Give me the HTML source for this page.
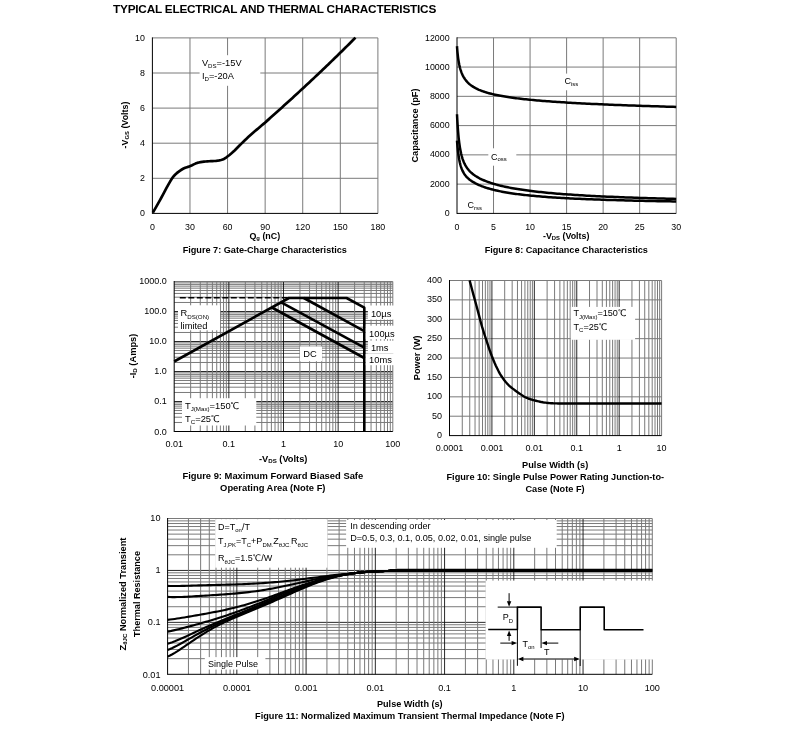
<!DOCTYPE html>
<html lang="en">
<head>
<meta charset="utf-8">
<title>Typical Electrical and Thermal Characteristics</title>
<style>
html,body{margin:0;padding:0;background:#fff;}
body{width:793px;height:756px;overflow:hidden;position:relative;}
svg{position:absolute;left:0;top:0;display:block;will-change:transform;}
svg text{font-family:"Liberation Sans", "WenQuanYi Zen Hei", sans-serif;fill:#000;}
</style>
</head>
<body>
<svg width="793" height="756" viewBox="0 0 793 756">
<!--title-->
<text x="113" y="12.7" font-size="11.8" font-weight="bold" letter-spacing="-0.22">TYPICAL ELECTRICAL AND THERMAL CHARACTERISTICS</text>
<!--fig7-->
<line x1="189.98" y1="37.9" x2="189.98" y2="213.4" stroke="#7a7a7a" stroke-width="1"/>
<line x1="227.57" y1="37.9" x2="227.57" y2="213.4" stroke="#7a7a7a" stroke-width="1"/>
<line x1="265.15" y1="37.9" x2="265.15" y2="213.4" stroke="#7a7a7a" stroke-width="1"/>
<line x1="302.73" y1="37.9" x2="302.73" y2="213.4" stroke="#7a7a7a" stroke-width="1"/>
<line x1="340.32" y1="37.9" x2="340.32" y2="213.4" stroke="#7a7a7a" stroke-width="1"/>
<line x1="152.4" y1="73" x2="377.9" y2="73" stroke="#7a7a7a" stroke-width="1"/>
<line x1="152.4" y1="108.1" x2="377.9" y2="108.1" stroke="#7a7a7a" stroke-width="1"/>
<line x1="152.4" y1="143.2" x2="377.9" y2="143.2" stroke="#7a7a7a" stroke-width="1"/>
<line x1="152.4" y1="178.3" x2="377.9" y2="178.3" stroke="#7a7a7a" stroke-width="1"/>
<line x1="152.4" y1="37.9" x2="377.9" y2="37.9" stroke="#7a7a7a" stroke-width="1"/>
<line x1="377.9" y1="37.9" x2="377.9" y2="213.4" stroke="#7a7a7a" stroke-width="1"/>
<line x1="152.4" y1="37.4" x2="152.4" y2="213.9" stroke="#000" stroke-width="1"/>
<line x1="152.4" y1="213.4" x2="377.9" y2="213.4" stroke="#000" stroke-width="1"/>
<path d="M152.9 212.6 L154.6 209.63 L156.31 206.63 L158.01 203.61 L159.71 200.57 L161.41 197.5 L163.12 194.38 L164.82 191.17 L166.52 187.98 L168.22 184.9 L169.93 181.94 L171.63 179.05 L173.33 176.64 L175.03 174.76 L176.74 173.18 L178.44 171.83 L180.14 170.6 L181.84 169.5 L183.55 168.55 L185.25 167.77 L186.95 167.19 L188.65 166.66 L190.36 166.06 L192.06 165.28 L193.76 164.42 L195.46 163.59 L197.17 162.93 L198.87 162.51 L200.57 162.19 L202.27 161.91 L203.98 161.69 L205.68 161.5 L207.38 161.36 L209.08 161.25 L210.79 161.18 L212.49 161.1 L214.19 161.01 L215.89 160.87 L217.6 160.66 L219.3 160.37 L221 159.98 L222.7 159.5 L224.41 158.7 L226.11 157.52 L227.81 156.24 L229.51 154.96 L231.22 153.56 L232.92 152.07 L234.62 150.47 L236.32 148.75 L238.03 146.99 L239.73 145.27 L241.43 143.61 L243.13 141.95 L244.84 140.32 L246.54 138.7 L248.24 137.11 L249.94 135.55 L251.65 134.03 L253.35 132.54 L255.05 131.09 L256.75 129.65 L258.46 128.22 L260.16 126.78 L261.86 125.34 L263.56 123.88 L265.27 122.4 L266.97 120.88 L268.67 119.37 L270.37 117.85 L272.08 116.33 L273.78 114.81 L275.48 113.28 L277.18 111.76 L278.89 110.23 L280.59 108.69 L282.29 107.16 L283.99 105.62 L285.7 104.08 L287.4 102.53 L289.1 100.99 L290.8 99.44 L292.51 97.88 L294.21 96.32 L295.91 94.76 L297.61 93.2 L299.32 91.63 L301.02 90.06 L302.72 88.49 L304.42 86.91 L306.13 85.33 L307.83 83.75 L309.53 82.16 L311.23 80.57 L312.94 78.97 L314.64 77.37 L316.34 75.76 L318.04 74.16 L319.75 72.54 L321.45 70.93 L323.15 69.3 L324.85 67.68 L326.56 66.05 L328.26 64.41 L329.96 62.78 L331.66 61.13 L333.37 59.48 L335.07 57.83 L336.77 56.17 L338.47 54.51 L340.18 52.84 L341.88 51.17 L343.58 49.49 L345.28 47.81 L346.99 46.12 L348.69 44.43 L350.39 42.73 L352.09 41.02 L353.8 39.31 L355.5 37.6" fill="none" stroke="#000" stroke-width="2.7" stroke-linejoin="round"/>
<rect x="199.6" y="55.2" width="60.7" height="30.6" fill="#fff"/>
<text x="201.9" y="65.9" font-size="9.28">V<tspan font-size="6.12" dy="2.51">DS</tspan><tspan dy="-2.51">=-15V</tspan></text>
<text x="201.9" y="78.9" font-size="9.28">I<tspan font-size="6.12" dy="2.51">D</tspan><tspan dy="-2.51">=-20A</tspan></text>
<text x="144.9" y="216" font-size="8.85" text-anchor="end">0</text>
<text x="144.9" y="181.02" font-size="8.85" text-anchor="end">2</text>
<text x="144.9" y="146.04" font-size="8.85" text-anchor="end">4</text>
<text x="144.9" y="111.06" font-size="8.85" text-anchor="end">6</text>
<text x="144.9" y="76.08" font-size="8.85" text-anchor="end">8</text>
<text x="144.9" y="41.1" font-size="8.85" text-anchor="end">10</text>
<text x="152.4" y="229.7" font-size="8.85" text-anchor="middle">0</text>
<text x="189.98" y="229.7" font-size="8.85" text-anchor="middle">30</text>
<text x="227.57" y="229.7" font-size="8.85" text-anchor="middle">60</text>
<text x="265.15" y="229.7" font-size="8.85" text-anchor="middle">90</text>
<text x="302.73" y="229.7" font-size="8.85" text-anchor="middle">120</text>
<text x="340.32" y="229.7" font-size="8.85" text-anchor="middle">150</text>
<text x="377.9" y="229.7" font-size="8.85" text-anchor="middle">180</text>
<text x="128.3" y="125" font-size="8.9" font-weight="bold" text-anchor="middle" transform="rotate(-90 128.3 125)">-V<tspan font-size="5.87" dy="1.07">GS</tspan><tspan dy="-1.07"> (Volts)</tspan></text>
<text x="264.8" y="239.4" font-size="8.9" font-weight="bold" text-anchor="middle">Q<tspan font-size="5.87" dy="1.07">g</tspan><tspan dy="-1.07"> (nC)</tspan></text>
<text x="264.8" y="252.7" font-size="9.13" font-weight="bold" text-anchor="middle">Figure 7: Gate-Charge Characteristics</text>
<!--fig8-->
<line x1="493.53" y1="37.8" x2="493.53" y2="213.4" stroke="#7a7a7a" stroke-width="1"/>
<line x1="530.07" y1="37.8" x2="530.07" y2="213.4" stroke="#7a7a7a" stroke-width="1"/>
<line x1="566.6" y1="37.8" x2="566.6" y2="213.4" stroke="#7a7a7a" stroke-width="1"/>
<line x1="603.13" y1="37.8" x2="603.13" y2="213.4" stroke="#7a7a7a" stroke-width="1"/>
<line x1="639.67" y1="37.8" x2="639.67" y2="213.4" stroke="#7a7a7a" stroke-width="1"/>
<line x1="457" y1="67.07" x2="676.2" y2="67.07" stroke="#7a7a7a" stroke-width="1"/>
<line x1="457" y1="96.33" x2="676.2" y2="96.33" stroke="#7a7a7a" stroke-width="1"/>
<line x1="457" y1="125.6" x2="676.2" y2="125.6" stroke="#7a7a7a" stroke-width="1"/>
<line x1="457" y1="154.87" x2="676.2" y2="154.87" stroke="#7a7a7a" stroke-width="1"/>
<line x1="457" y1="184.13" x2="676.2" y2="184.13" stroke="#7a7a7a" stroke-width="1"/>
<line x1="457" y1="37.8" x2="676.2" y2="37.8" stroke="#7a7a7a" stroke-width="1"/>
<line x1="676.2" y1="37.8" x2="676.2" y2="213.4" stroke="#7a7a7a" stroke-width="1"/>
<line x1="457" y1="37.3" x2="457" y2="213.9" stroke="#000" stroke-width="1"/>
<line x1="457" y1="213.4" x2="676.2" y2="213.4" stroke="#000" stroke-width="1"/>
<path d="M457 46.29 L457.01 46.46 L457.05 46.95 L457.1 47.75 L457.18 48.81 L457.28 50.08 L457.41 51.52 L457.56 53.09 L457.73 54.72 L457.92 56.4 L458.13 58.09 L458.37 59.77 L458.63 61.41 L458.92 63.01 L459.22 64.56 L459.55 66.05 L459.9 67.49 L460.28 68.86 L460.68 70.17 L461.1 71.42 L461.54 72.61 L462 73.75 L462.49 74.83 L463 75.87 L463.53 76.85 L464.09 77.79 L464.67 78.69 L465.27 79.55 L465.89 80.37 L466.54 81.15 L467.21 81.9 L467.9 82.62 L468.62 83.31 L469.35 83.97 L470.12 84.61 L470.9 85.22 L471.7 85.81 L472.53 86.37 L473.38 86.92 L474.26 87.44 L475.15 87.94 L476.07 88.43 L477.01 88.9 L477.98 89.36 L478.96 89.8 L479.97 90.22 L481.01 90.64 L482.06 91.04 L483.14 91.42 L484.24 91.8 L485.36 92.16 L486.51 92.52 L487.68 92.86 L488.87 93.19 L490.08 93.52 L491.32 93.83 L492.58 94.14 L493.86 94.44 L495.17 94.73 L496.49 95.02 L497.84 95.29 L499.22 95.56 L500.61 95.83 L502.03 96.09 L503.47 96.34 L504.93 96.58 L506.42 96.82 L507.93 97.06 L509.46 97.29 L511.01 97.51 L512.59 97.73 L514.19 97.95 L515.81 98.16 L517.46 98.37 L519.13 98.57 L520.82 98.77 L522.53 98.96 L524.27 99.15 L526.02 99.34 L527.81 99.53 L529.61 99.71 L531.44 99.88 L533.28 100.06 L535.16 100.23 L537.05 100.4 L538.97 100.56 L540.91 100.73 L542.87 100.89 L544.86 101.04 L546.87 101.2 L548.9 101.35 L550.95 101.5 L553.03 101.65 L555.12 101.8 L557.25 101.94 L559.39 102.08 L561.56 102.22 L563.75 102.36 L565.96 102.5 L568.19 102.63 L570.45 102.76 L572.73 102.89 L575.04 103.02 L577.36 103.15 L579.71 103.27 L582.08 103.4 L584.47 103.52 L586.89 103.64 L589.33 103.76 L591.79 103.88 L594.28 104 L596.78 104.11 L599.31 104.23 L601.87 104.34 L604.44 104.45 L607.04 104.56 L609.66 104.67 L612.3 104.78 L614.97 104.88 L617.66 104.99 L620.37 105.1 L623.1 105.2 L625.86 105.3 L628.64 105.4 L631.44 105.5 L634.27 105.6 L637.12 105.7 L639.99 105.8 L642.88 105.9 L645.79 106 L648.73 106.09 L651.69 106.19 L654.68 106.28 L657.68 106.37 L660.71 106.47 L663.77 106.56 L666.84 106.65 L669.94 106.74 L673.06 106.83 L676.2 106.92" fill="none" stroke="#000" stroke-width="2.5" stroke-linejoin="round"/>
<path d="M457 114.21 L457.01 114.45 L457.05 115.15 L457.1 116.28 L457.18 117.82 L457.28 119.69 L457.41 121.86 L457.56 124.25 L457.73 126.8 L457.92 129.45 L458.13 132.15 L458.37 134.86 L458.63 137.53 L458.92 140.13 L459.22 142.64 L459.55 145.04 L459.9 147.33 L460.28 149.5 L460.68 151.54 L461.1 153.46 L461.54 155.26 L462 156.95 L462.49 158.53 L463 160.02 L463.53 161.4 L464.09 162.71 L464.67 163.93 L465.27 165.08 L465.89 166.17 L466.54 167.19 L467.21 168.16 L467.9 169.08 L468.62 169.96 L469.35 170.79 L470.12 171.58 L470.9 172.34 L471.7 173.07 L472.53 173.76 L473.38 174.43 L474.26 175.08 L475.15 175.7 L476.07 176.3 L477.01 176.88 L477.98 177.45 L478.96 177.99 L479.97 178.52 L481.01 179.03 L482.06 179.53 L483.14 180.02 L484.24 180.49 L485.36 180.95 L486.51 181.4 L487.68 181.84 L488.87 182.27 L490.08 182.68 L491.32 183.09 L492.58 183.49 L493.86 183.88 L495.17 184.26 L496.49 184.63 L497.84 184.99 L499.22 185.34 L500.61 185.69 L502.03 186.03 L503.47 186.36 L504.93 186.68 L506.42 187 L507.93 187.31 L509.46 187.62 L511.01 187.91 L512.59 188.2 L514.19 188.49 L515.81 188.77 L517.46 189.04 L519.13 189.31 L520.82 189.57 L522.53 189.82 L524.27 190.08 L526.02 190.32 L527.81 190.56 L529.61 190.8 L531.44 191.03 L533.28 191.25 L535.16 191.47 L537.05 191.69 L538.97 191.9 L540.91 192.11 L542.87 192.31 L544.86 192.51 L546.87 192.71 L548.9 192.9 L550.95 193.09 L553.03 193.27 L555.12 193.45 L557.25 193.63 L559.39 193.8 L561.56 193.97 L563.75 194.14 L565.96 194.3 L568.19 194.46 L570.45 194.62 L572.73 194.77 L575.04 194.92 L577.36 195.07 L579.71 195.22 L582.08 195.36 L584.47 195.5 L586.89 195.63 L589.33 195.77 L591.79 195.9 L594.28 196.03 L596.78 196.15 L599.31 196.28 L601.87 196.4 L604.44 196.52 L607.04 196.64 L609.66 196.75 L612.3 196.87 L614.97 196.98 L617.66 197.09 L620.37 197.19 L623.1 197.3 L625.86 197.4 L628.64 197.5 L631.44 197.6 L634.27 197.7 L637.12 197.8 L639.99 197.89 L642.88 197.98 L645.79 198.07 L648.73 198.16 L651.69 198.25 L654.68 198.34 L657.68 198.42 L660.71 198.5 L663.77 198.59 L666.84 198.67 L669.94 198.74 L673.06 198.82 L676.2 198.9" fill="none" stroke="#000" stroke-width="2.5" stroke-linejoin="round"/>
<path d="M457 140.6 L457.01 140.75 L457.05 141.19 L457.1 141.91 L457.18 142.89 L457.28 144.09 L457.41 145.5 L457.56 147.06 L457.73 148.74 L457.92 150.52 L458.13 152.34 L458.37 154.17 L458.63 156 L458.92 157.79 L459.22 159.54 L459.55 161.21 L459.9 162.81 L460.28 164.33 L460.68 165.76 L461.1 167.11 L461.54 168.38 L462 169.56 L462.49 170.67 L463 171.72 L463.53 172.69 L464.09 173.61 L464.67 174.48 L465.27 175.29 L465.89 176.07 L466.54 176.8 L467.21 177.5 L467.9 178.17 L468.62 178.81 L469.35 179.42 L470.12 180.02 L470.9 180.59 L471.7 181.14 L472.53 181.68 L473.38 182.2 L474.26 182.7 L475.15 183.19 L476.07 183.67 L477.01 184.13 L477.98 184.59 L478.96 185.03 L479.97 185.46 L481.01 185.88 L482.06 186.29 L483.14 186.69 L484.24 187.08 L485.36 187.46 L486.51 187.83 L487.68 188.2 L488.87 188.55 L490.08 188.9 L491.32 189.24 L492.58 189.57 L493.86 189.89 L495.17 190.21 L496.49 190.51 L497.84 190.81 L499.22 191.11 L500.61 191.39 L502.03 191.67 L503.47 191.94 L504.93 192.21 L506.42 192.47 L507.93 192.72 L509.46 192.97 L511.01 193.21 L512.59 193.44 L514.19 193.67 L515.81 193.9 L517.46 194.12 L519.13 194.33 L520.82 194.54 L522.53 194.74 L524.27 194.94 L526.02 195.13 L527.81 195.32 L529.61 195.51 L531.44 195.69 L533.28 195.86 L535.16 196.03 L537.05 196.2 L538.97 196.36 L540.91 196.52 L542.87 196.68 L544.86 196.83 L546.87 196.98 L548.9 197.13 L550.95 197.27 L553.03 197.41 L555.12 197.54 L557.25 197.68 L559.39 197.81 L561.56 197.93 L563.75 198.06 L565.96 198.18 L568.19 198.3 L570.45 198.41 L572.73 198.53 L575.04 198.64 L577.36 198.75 L579.71 198.85 L582.08 198.96 L584.47 199.06 L586.89 199.16 L589.33 199.25 L591.79 199.35 L594.28 199.44 L596.78 199.53 L599.31 199.62 L601.87 199.71 L604.44 199.79 L607.04 199.88 L609.66 199.96 L612.3 200.04 L614.97 200.12 L617.66 200.2 L620.37 200.27 L623.1 200.35 L625.86 200.42 L628.64 200.49 L631.44 200.56 L634.27 200.63 L637.12 200.69 L639.99 200.76 L642.88 200.82 L645.79 200.89 L648.73 200.95 L651.69 201.01 L654.68 201.07 L657.68 201.13 L660.71 201.19 L663.77 201.24 L666.84 201.3 L669.94 201.35 L673.06 201.41 L676.2 201.46" fill="none" stroke="#000" stroke-width="2.5" stroke-linejoin="round"/>
<rect x="562.5" y="73.6" width="19.5" height="16.7" fill="#fff"/>
<text x="564.4" y="83.7" font-size="9">C<tspan font-size="5.94" dy="1.98">iss</tspan></text>
<rect x="488.3" y="148.3" width="28" height="17.4" fill="#fff"/>
<text x="491" y="159.6" font-size="9">C<tspan font-size="5.94" dy="1.17">oss</tspan></text>
<text x="467.6" y="207.8" font-size="9">C<tspan font-size="5.94" dy="2.16">rss</tspan></text>
<text x="449.6" y="215.7" font-size="8.85" text-anchor="end">0</text>
<text x="449.6" y="186.58" font-size="8.85" text-anchor="end">2000</text>
<text x="449.6" y="157.47" font-size="8.85" text-anchor="end">4000</text>
<text x="449.6" y="128.35" font-size="8.85" text-anchor="end">6000</text>
<text x="449.6" y="99.23" font-size="8.85" text-anchor="end">8000</text>
<text x="449.6" y="70.12" font-size="8.85" text-anchor="end">10000</text>
<text x="449.6" y="41" font-size="8.85" text-anchor="end">12000</text>
<text x="457" y="229.7" font-size="8.85" text-anchor="middle">0</text>
<text x="493.53" y="229.7" font-size="8.85" text-anchor="middle">5</text>
<text x="530.07" y="229.7" font-size="8.85" text-anchor="middle">10</text>
<text x="566.6" y="229.7" font-size="8.85" text-anchor="middle">15</text>
<text x="603.13" y="229.7" font-size="8.85" text-anchor="middle">20</text>
<text x="639.67" y="229.7" font-size="8.85" text-anchor="middle">25</text>
<text x="676.2" y="229.7" font-size="8.85" text-anchor="middle">30</text>
<text x="418" y="125.5" font-size="9.2" font-weight="bold" text-anchor="middle" transform="rotate(-90 418 125.5)">Capacitance (pF)</text>
<text x="566.2" y="239.3" font-size="8.9" font-weight="bold" text-anchor="middle">-V<tspan font-size="5.87" dy="1.07">DS</tspan><tspan dy="-1.07"> (Volts)</tspan></text>
<text x="566.3" y="252.7" font-size="9.15" font-weight="bold" text-anchor="middle">Figure 8: Capacitance Characteristics</text>
<!--fig9-->
<line x1="174.2" y1="422.47" x2="392.8" y2="422.47" stroke="#7a7a7a" stroke-width="1"/>
<line x1="174.2" y1="417.19" x2="392.8" y2="417.19" stroke="#7a7a7a" stroke-width="1"/>
<line x1="174.2" y1="413.44" x2="392.8" y2="413.44" stroke="#7a7a7a" stroke-width="1"/>
<line x1="174.2" y1="410.53" x2="392.8" y2="410.53" stroke="#7a7a7a" stroke-width="1"/>
<line x1="174.2" y1="408.16" x2="392.8" y2="408.16" stroke="#7a7a7a" stroke-width="1"/>
<line x1="174.2" y1="406.15" x2="392.8" y2="406.15" stroke="#7a7a7a" stroke-width="1"/>
<line x1="174.2" y1="404.41" x2="392.8" y2="404.41" stroke="#7a7a7a" stroke-width="1"/>
<line x1="174.2" y1="402.87" x2="392.8" y2="402.87" stroke="#7a7a7a" stroke-width="1"/>
<line x1="174.2" y1="392.47" x2="392.8" y2="392.47" stroke="#7a7a7a" stroke-width="1"/>
<line x1="174.2" y1="387.19" x2="392.8" y2="387.19" stroke="#7a7a7a" stroke-width="1"/>
<line x1="174.2" y1="383.44" x2="392.8" y2="383.44" stroke="#7a7a7a" stroke-width="1"/>
<line x1="174.2" y1="380.53" x2="392.8" y2="380.53" stroke="#7a7a7a" stroke-width="1"/>
<line x1="174.2" y1="378.16" x2="392.8" y2="378.16" stroke="#7a7a7a" stroke-width="1"/>
<line x1="174.2" y1="376.15" x2="392.8" y2="376.15" stroke="#7a7a7a" stroke-width="1"/>
<line x1="174.2" y1="374.41" x2="392.8" y2="374.41" stroke="#7a7a7a" stroke-width="1"/>
<line x1="174.2" y1="372.87" x2="392.8" y2="372.87" stroke="#7a7a7a" stroke-width="1"/>
<line x1="174.2" y1="362.47" x2="392.8" y2="362.47" stroke="#7a7a7a" stroke-width="1"/>
<line x1="174.2" y1="357.19" x2="392.8" y2="357.19" stroke="#7a7a7a" stroke-width="1"/>
<line x1="174.2" y1="353.44" x2="392.8" y2="353.44" stroke="#7a7a7a" stroke-width="1"/>
<line x1="174.2" y1="350.53" x2="392.8" y2="350.53" stroke="#7a7a7a" stroke-width="1"/>
<line x1="174.2" y1="348.16" x2="392.8" y2="348.16" stroke="#7a7a7a" stroke-width="1"/>
<line x1="174.2" y1="346.15" x2="392.8" y2="346.15" stroke="#7a7a7a" stroke-width="1"/>
<line x1="174.2" y1="344.41" x2="392.8" y2="344.41" stroke="#7a7a7a" stroke-width="1"/>
<line x1="174.2" y1="342.87" x2="392.8" y2="342.87" stroke="#7a7a7a" stroke-width="1"/>
<line x1="174.2" y1="332.47" x2="392.8" y2="332.47" stroke="#7a7a7a" stroke-width="1"/>
<line x1="174.2" y1="327.19" x2="392.8" y2="327.19" stroke="#7a7a7a" stroke-width="1"/>
<line x1="174.2" y1="323.44" x2="392.8" y2="323.44" stroke="#7a7a7a" stroke-width="1"/>
<line x1="174.2" y1="320.53" x2="392.8" y2="320.53" stroke="#7a7a7a" stroke-width="1"/>
<line x1="174.2" y1="318.16" x2="392.8" y2="318.16" stroke="#7a7a7a" stroke-width="1"/>
<line x1="174.2" y1="316.15" x2="392.8" y2="316.15" stroke="#7a7a7a" stroke-width="1"/>
<line x1="174.2" y1="314.41" x2="392.8" y2="314.41" stroke="#7a7a7a" stroke-width="1"/>
<line x1="174.2" y1="312.87" x2="392.8" y2="312.87" stroke="#7a7a7a" stroke-width="1"/>
<line x1="174.2" y1="302.47" x2="392.8" y2="302.47" stroke="#7a7a7a" stroke-width="1"/>
<line x1="174.2" y1="297.19" x2="392.8" y2="297.19" stroke="#7a7a7a" stroke-width="1"/>
<line x1="174.2" y1="293.44" x2="392.8" y2="293.44" stroke="#7a7a7a" stroke-width="1"/>
<line x1="174.2" y1="290.53" x2="392.8" y2="290.53" stroke="#7a7a7a" stroke-width="1"/>
<line x1="174.2" y1="288.16" x2="392.8" y2="288.16" stroke="#7a7a7a" stroke-width="1"/>
<line x1="174.2" y1="286.15" x2="392.8" y2="286.15" stroke="#7a7a7a" stroke-width="1"/>
<line x1="174.2" y1="284.41" x2="392.8" y2="284.41" stroke="#7a7a7a" stroke-width="1"/>
<line x1="174.2" y1="282.87" x2="392.8" y2="282.87" stroke="#7a7a7a" stroke-width="1"/>
<line x1="174.2" y1="401.5" x2="392.8" y2="401.5" stroke="#111" stroke-width="0.9"/>
<line x1="174.2" y1="371.5" x2="392.8" y2="371.5" stroke="#111" stroke-width="0.9"/>
<line x1="174.2" y1="341.5" x2="392.8" y2="341.5" stroke="#111" stroke-width="0.9"/>
<line x1="174.2" y1="311.5" x2="392.8" y2="311.5" stroke="#111" stroke-width="0.9"/>
<line x1="190.65" y1="281.5" x2="190.65" y2="431.5" stroke="#7a7a7a" stroke-width="1"/>
<line x1="200.27" y1="281.5" x2="200.27" y2="431.5" stroke="#7a7a7a" stroke-width="1"/>
<line x1="207.1" y1="281.5" x2="207.1" y2="431.5" stroke="#7a7a7a" stroke-width="1"/>
<line x1="212.4" y1="281.5" x2="212.4" y2="431.5" stroke="#7a7a7a" stroke-width="1"/>
<line x1="216.73" y1="281.5" x2="216.73" y2="431.5" stroke="#7a7a7a" stroke-width="1"/>
<line x1="220.38" y1="281.5" x2="220.38" y2="431.5" stroke="#7a7a7a" stroke-width="1"/>
<line x1="223.55" y1="281.5" x2="223.55" y2="431.5" stroke="#7a7a7a" stroke-width="1"/>
<line x1="226.35" y1="281.5" x2="226.35" y2="431.5" stroke="#7a7a7a" stroke-width="1"/>
<line x1="245.3" y1="281.5" x2="245.3" y2="431.5" stroke="#7a7a7a" stroke-width="1"/>
<line x1="254.92" y1="281.5" x2="254.92" y2="431.5" stroke="#7a7a7a" stroke-width="1"/>
<line x1="261.75" y1="281.5" x2="261.75" y2="431.5" stroke="#7a7a7a" stroke-width="1"/>
<line x1="267.05" y1="281.5" x2="267.05" y2="431.5" stroke="#7a7a7a" stroke-width="1"/>
<line x1="271.38" y1="281.5" x2="271.38" y2="431.5" stroke="#7a7a7a" stroke-width="1"/>
<line x1="275.03" y1="281.5" x2="275.03" y2="431.5" stroke="#7a7a7a" stroke-width="1"/>
<line x1="278.2" y1="281.5" x2="278.2" y2="431.5" stroke="#7a7a7a" stroke-width="1"/>
<line x1="281" y1="281.5" x2="281" y2="431.5" stroke="#7a7a7a" stroke-width="1"/>
<line x1="299.95" y1="281.5" x2="299.95" y2="431.5" stroke="#7a7a7a" stroke-width="1"/>
<line x1="309.57" y1="281.5" x2="309.57" y2="431.5" stroke="#7a7a7a" stroke-width="1"/>
<line x1="316.4" y1="281.5" x2="316.4" y2="431.5" stroke="#7a7a7a" stroke-width="1"/>
<line x1="321.7" y1="281.5" x2="321.7" y2="431.5" stroke="#7a7a7a" stroke-width="1"/>
<line x1="326.03" y1="281.5" x2="326.03" y2="431.5" stroke="#7a7a7a" stroke-width="1"/>
<line x1="329.68" y1="281.5" x2="329.68" y2="431.5" stroke="#7a7a7a" stroke-width="1"/>
<line x1="332.85" y1="281.5" x2="332.85" y2="431.5" stroke="#7a7a7a" stroke-width="1"/>
<line x1="335.65" y1="281.5" x2="335.65" y2="431.5" stroke="#7a7a7a" stroke-width="1"/>
<line x1="354.6" y1="281.5" x2="354.6" y2="431.5" stroke="#7a7a7a" stroke-width="1"/>
<line x1="364.22" y1="281.5" x2="364.22" y2="431.5" stroke="#7a7a7a" stroke-width="1"/>
<line x1="371.05" y1="281.5" x2="371.05" y2="431.5" stroke="#7a7a7a" stroke-width="1"/>
<line x1="376.35" y1="281.5" x2="376.35" y2="431.5" stroke="#7a7a7a" stroke-width="1"/>
<line x1="380.68" y1="281.5" x2="380.68" y2="431.5" stroke="#7a7a7a" stroke-width="1"/>
<line x1="384.33" y1="281.5" x2="384.33" y2="431.5" stroke="#7a7a7a" stroke-width="1"/>
<line x1="387.5" y1="281.5" x2="387.5" y2="431.5" stroke="#7a7a7a" stroke-width="1"/>
<line x1="390.3" y1="281.5" x2="390.3" y2="431.5" stroke="#7a7a7a" stroke-width="1"/>
<line x1="228.85" y1="281.5" x2="228.85" y2="431.5" stroke="#111" stroke-width="0.9"/>
<line x1="283.5" y1="281.5" x2="283.5" y2="431.5" stroke="#111" stroke-width="0.9"/>
<line x1="338.15" y1="281.5" x2="338.15" y2="431.5" stroke="#111" stroke-width="0.9"/>
<line x1="174.2" y1="281.5" x2="392.8" y2="281.5" stroke="#7a7a7a" stroke-width="1"/>
<line x1="392.8" y1="281.5" x2="392.8" y2="431.5" stroke="#7a7a7a" stroke-width="1"/>
<line x1="174.2" y1="281" x2="174.2" y2="432" stroke="#000" stroke-width="1"/>
<line x1="174.2" y1="431.5" x2="392.8" y2="431.5" stroke="#000" stroke-width="1"/>
<line x1="179.8" y1="297.8" x2="289" y2="297.8" stroke="#000" stroke-width="1.6" stroke-dasharray="6 2.5"/>
<path d="M174.2 361.5 L289 298 L346.6 298 L364.3 307.7 L364.3 431.5" fill="none" stroke="#000" stroke-width="2.6" stroke-linejoin="round" stroke-linejoin="miter"/>
<path d="M303.8 298 L364.3 331.1" fill="none" stroke="#000" stroke-width="2.6" stroke-linejoin="round"/>
<path d="M281.2 302.3 L364.3 347.7" fill="none" stroke="#000" stroke-width="2.6" stroke-linejoin="round"/>
<path d="M271.9 307.5 L364.3 358" fill="none" stroke="#000" stroke-width="2.6" stroke-linejoin="round"/>
<rect x="178" y="305.3" width="42" height="25" fill="#fff"/>
<text x="180.5" y="316" font-size="9.35">R<tspan font-size="6.17" dy="2.52">DS(ON)</tspan></text>
<text x="180.5" y="328.7" font-size="9.35">limited</text>
<rect x="367.9" y="305.5" width="28.1" height="14.1" fill="#fff"/>
<rect x="365.8" y="325.7" width="30.2" height="13.5" fill="#fff"/>
<rect x="367.9" y="340.7" width="28.1" height="12.8" fill="#fff"/>
<rect x="365.8" y="353.5" width="30.2" height="11.7" fill="#fff"/>
<text x="370.9" y="316.6" font-size="9.35">10µs</text>
<text x="369" y="336.5" font-size="9.35">100µs</text>
<text x="370.9" y="351.1" font-size="9.35">1ms</text>
<text x="369" y="362.7" font-size="9.35">10ms</text>
<rect x="300" y="346.5" width="22" height="14.7" fill="#fff"/>
<text x="303.2" y="357.1" font-size="9.35">DC</text>
<rect x="182" y="398.2" width="74.3" height="27.3" fill="#fff"/>
<text x="185" y="408.7" font-size="9.35">T<tspan font-size="6.17" dy="2.52">J(Max)</tspan><tspan dy="-2.52">=150℃</tspan></text>
<text x="185" y="421.5" font-size="9.35">T<tspan font-size="6.17" dy="2.52">C</tspan><tspan dy="-2.52">=25℃</tspan></text>
<text x="166.7" y="434.6" font-size="9" text-anchor="end">0.0</text>
<text x="166.7" y="404.48" font-size="9" text-anchor="end">0.1</text>
<text x="166.7" y="374.36" font-size="9" text-anchor="end">1.0</text>
<text x="166.7" y="344.24" font-size="9" text-anchor="end">10.0</text>
<text x="166.7" y="314.12" font-size="9" text-anchor="end">100.0</text>
<text x="166.7" y="284" font-size="9" text-anchor="end">1000.0</text>
<text x="174.2" y="447.3" font-size="9" text-anchor="middle">0.01</text>
<text x="228.85" y="447.3" font-size="9" text-anchor="middle">0.1</text>
<text x="283.5" y="447.3" font-size="9" text-anchor="middle">1</text>
<text x="338.15" y="447.3" font-size="9" text-anchor="middle">10</text>
<text x="392.8" y="447.3" font-size="9" text-anchor="middle">100</text>
<text x="135.5" y="356" font-size="9.27" font-weight="bold" text-anchor="middle" transform="rotate(-90 135.5 356)">-I<tspan font-size="6.12" dy="1.11">D</tspan><tspan dy="-1.11"> (Amps)</tspan></text>
<text x="283.2" y="461.9" font-size="9.27" font-weight="bold" text-anchor="middle">-V<tspan font-size="6.12" dy="1.11">DS</tspan><tspan dy="-1.11"> (Volts)</tspan></text>
<text x="272.8" y="478.6" font-size="9.4" font-weight="bold" text-anchor="middle">Figure 9: Maximum Forward Biased Safe</text>
<text x="272.8" y="490.7" font-size="9.4" font-weight="bold" text-anchor="middle">Operating Area (Note F)</text>
<!--fig10-->
<line x1="449.5" y1="299.89" x2="661.6" y2="299.89" stroke="#7a7a7a" stroke-width="1"/>
<line x1="449.5" y1="319.27" x2="661.6" y2="319.27" stroke="#7a7a7a" stroke-width="1"/>
<line x1="449.5" y1="338.66" x2="661.6" y2="338.66" stroke="#7a7a7a" stroke-width="1"/>
<line x1="449.5" y1="358.05" x2="661.6" y2="358.05" stroke="#7a7a7a" stroke-width="1"/>
<line x1="449.5" y1="377.44" x2="661.6" y2="377.44" stroke="#7a7a7a" stroke-width="1"/>
<line x1="449.5" y1="396.83" x2="661.6" y2="396.83" stroke="#7a7a7a" stroke-width="1"/>
<line x1="449.5" y1="416.21" x2="661.6" y2="416.21" stroke="#7a7a7a" stroke-width="1"/>
<line x1="462.27" y1="280.5" x2="462.27" y2="435.6" stroke="#7a7a7a" stroke-width="1"/>
<line x1="469.74" y1="280.5" x2="469.74" y2="435.6" stroke="#7a7a7a" stroke-width="1"/>
<line x1="475.04" y1="280.5" x2="475.04" y2="435.6" stroke="#7a7a7a" stroke-width="1"/>
<line x1="479.15" y1="280.5" x2="479.15" y2="435.6" stroke="#7a7a7a" stroke-width="1"/>
<line x1="482.51" y1="280.5" x2="482.51" y2="435.6" stroke="#7a7a7a" stroke-width="1"/>
<line x1="485.35" y1="280.5" x2="485.35" y2="435.6" stroke="#7a7a7a" stroke-width="1"/>
<line x1="487.81" y1="280.5" x2="487.81" y2="435.6" stroke="#7a7a7a" stroke-width="1"/>
<line x1="489.98" y1="280.5" x2="489.98" y2="435.6" stroke="#7a7a7a" stroke-width="1"/>
<line x1="504.69" y1="280.5" x2="504.69" y2="435.6" stroke="#7a7a7a" stroke-width="1"/>
<line x1="512.16" y1="280.5" x2="512.16" y2="435.6" stroke="#7a7a7a" stroke-width="1"/>
<line x1="517.46" y1="280.5" x2="517.46" y2="435.6" stroke="#7a7a7a" stroke-width="1"/>
<line x1="521.57" y1="280.5" x2="521.57" y2="435.6" stroke="#7a7a7a" stroke-width="1"/>
<line x1="524.93" y1="280.5" x2="524.93" y2="435.6" stroke="#7a7a7a" stroke-width="1"/>
<line x1="527.77" y1="280.5" x2="527.77" y2="435.6" stroke="#7a7a7a" stroke-width="1"/>
<line x1="530.23" y1="280.5" x2="530.23" y2="435.6" stroke="#7a7a7a" stroke-width="1"/>
<line x1="532.4" y1="280.5" x2="532.4" y2="435.6" stroke="#7a7a7a" stroke-width="1"/>
<line x1="547.11" y1="280.5" x2="547.11" y2="435.6" stroke="#7a7a7a" stroke-width="1"/>
<line x1="554.58" y1="280.5" x2="554.58" y2="435.6" stroke="#7a7a7a" stroke-width="1"/>
<line x1="559.88" y1="280.5" x2="559.88" y2="435.6" stroke="#7a7a7a" stroke-width="1"/>
<line x1="563.99" y1="280.5" x2="563.99" y2="435.6" stroke="#7a7a7a" stroke-width="1"/>
<line x1="567.35" y1="280.5" x2="567.35" y2="435.6" stroke="#7a7a7a" stroke-width="1"/>
<line x1="570.19" y1="280.5" x2="570.19" y2="435.6" stroke="#7a7a7a" stroke-width="1"/>
<line x1="572.65" y1="280.5" x2="572.65" y2="435.6" stroke="#7a7a7a" stroke-width="1"/>
<line x1="574.82" y1="280.5" x2="574.82" y2="435.6" stroke="#7a7a7a" stroke-width="1"/>
<line x1="589.53" y1="280.5" x2="589.53" y2="435.6" stroke="#7a7a7a" stroke-width="1"/>
<line x1="597" y1="280.5" x2="597" y2="435.6" stroke="#7a7a7a" stroke-width="1"/>
<line x1="602.3" y1="280.5" x2="602.3" y2="435.6" stroke="#7a7a7a" stroke-width="1"/>
<line x1="606.41" y1="280.5" x2="606.41" y2="435.6" stroke="#7a7a7a" stroke-width="1"/>
<line x1="609.77" y1="280.5" x2="609.77" y2="435.6" stroke="#7a7a7a" stroke-width="1"/>
<line x1="612.61" y1="280.5" x2="612.61" y2="435.6" stroke="#7a7a7a" stroke-width="1"/>
<line x1="615.07" y1="280.5" x2="615.07" y2="435.6" stroke="#7a7a7a" stroke-width="1"/>
<line x1="617.24" y1="280.5" x2="617.24" y2="435.6" stroke="#7a7a7a" stroke-width="1"/>
<line x1="631.95" y1="280.5" x2="631.95" y2="435.6" stroke="#7a7a7a" stroke-width="1"/>
<line x1="639.42" y1="280.5" x2="639.42" y2="435.6" stroke="#7a7a7a" stroke-width="1"/>
<line x1="644.72" y1="280.5" x2="644.72" y2="435.6" stroke="#7a7a7a" stroke-width="1"/>
<line x1="648.83" y1="280.5" x2="648.83" y2="435.6" stroke="#7a7a7a" stroke-width="1"/>
<line x1="652.19" y1="280.5" x2="652.19" y2="435.6" stroke="#7a7a7a" stroke-width="1"/>
<line x1="655.03" y1="280.5" x2="655.03" y2="435.6" stroke="#7a7a7a" stroke-width="1"/>
<line x1="657.49" y1="280.5" x2="657.49" y2="435.6" stroke="#7a7a7a" stroke-width="1"/>
<line x1="659.66" y1="280.5" x2="659.66" y2="435.6" stroke="#7a7a7a" stroke-width="1"/>
<line x1="491.92" y1="280.5" x2="491.92" y2="435.6" stroke="#111" stroke-width="0.9"/>
<line x1="534.34" y1="280.5" x2="534.34" y2="435.6" stroke="#111" stroke-width="0.9"/>
<line x1="576.76" y1="280.5" x2="576.76" y2="435.6" stroke="#111" stroke-width="0.9"/>
<line x1="619.18" y1="280.5" x2="619.18" y2="435.6" stroke="#111" stroke-width="0.9"/>
<line x1="449.5" y1="280.5" x2="661.6" y2="280.5" stroke="#7a7a7a" stroke-width="1"/>
<line x1="661.6" y1="280.5" x2="661.6" y2="435.6" stroke="#7a7a7a" stroke-width="1"/>
<line x1="449.5" y1="280" x2="449.5" y2="436.1" stroke="#000" stroke-width="1"/>
<line x1="449.5" y1="435.6" x2="661.6" y2="435.6" stroke="#000" stroke-width="1"/>
<path d="M469.6 280.4 L470.98 285.56 L472.36 290.71 L473.74 295.83 L475.13 300.91 L476.51 305.98 L477.89 311.1 L479.27 316.42 L480.65 321.71 L482.03 326.64 L483.41 331.18 L484.79 335.51 L486.18 339.72 L487.56 343.9 L488.94 348.04 L490.32 352.04 L491.7 355.76 L493.08 359.24 L494.46 362.55 L495.84 365.66 L497.23 368.57 L498.61 371.32 L499.99 373.84 L501.37 376.03 L502.75 378.07 L504.13 379.97 L505.51 381.73 L506.89 383.34 L508.28 384.77 L509.66 386.07 L511.04 387.26 L512.42 388.36 L513.8 389.4 L515.18 390.41 L516.56 391.41 L517.95 392.41 L519.33 393.41 L520.71 394.38 L522.09 395.31 L523.47 396.17 L524.85 396.96 L526.23 397.65 L527.61 398.23 L529 398.76 L530.38 399.23 L531.76 399.66 L533.14 400.06 L534.52 400.43 L535.9 400.78 L537.28 401.12 L538.66 401.45 L540.05 401.76 L541.43 402.05 L542.81 402.3 L544.19 402.51 L545.57 402.68 L546.95 402.84 L548.33 402.98 L549.72 403.1 L551.1 403.2 L552.48 403.28 L553.86 403.33 L555.24 403.38 L556.62 403.42 L558 403.45 L559.38 403.48 L560.77 403.49 L562.15 403.5 L563.53 403.5 L564.91 403.5 L566.29 403.5 L567.67 403.5 L569.05 403.5 L570.43 403.5 L571.82 403.5 L573.2 403.5 L574.58 403.5 L575.96 403.5 L577.34 403.5 L578.72 403.5 L580.1 403.5 L581.48 403.5 L582.87 403.5 L584.25 403.5 L585.63 403.5 L587.01 403.5 L588.39 403.5 L589.77 403.5 L591.15 403.5 L592.54 403.5 L593.92 403.5 L595.3 403.5 L596.68 403.5 L598.06 403.5 L599.44 403.5 L600.82 403.5 L602.2 403.5 L603.59 403.5 L604.97 403.5 L606.35 403.5 L607.73 403.5 L609.11 403.5 L610.49 403.5 L611.87 403.5 L613.25 403.5 L614.64 403.5 L616.02 403.5 L617.4 403.5 L618.78 403.5 L620.16 403.5 L621.54 403.5 L622.92 403.5 L624.31 403.5 L625.69 403.5 L627.07 403.5 L628.45 403.5 L629.83 403.5 L631.21 403.5 L632.59 403.5 L633.97 403.5 L635.36 403.5 L636.74 403.5 L638.12 403.5 L639.5 403.5 L640.88 403.5 L642.26 403.5 L643.64 403.5 L645.02 403.5 L646.41 403.5 L647.79 403.5 L649.17 403.5 L650.55 403.5 L651.93 403.5 L653.31 403.5 L654.69 403.5 L656.07 403.5 L657.46 403.5 L658.84 403.5 L660.22 403.5 L661.6 403.5" fill="none" stroke="#000" stroke-width="2.4" stroke-linejoin="round"/>
<rect x="570.8" y="306.9" width="64.3" height="32.9" fill="#fff"/>
<text x="573.5" y="316.3" font-size="9.1">T<tspan font-size="6.01" dy="2.46">J(Max)</tspan><tspan dy="-2.46">=150℃</tspan></text>
<text x="573.5" y="329.6" font-size="9.1">T<tspan font-size="6.01" dy="2.46">C</tspan><tspan dy="-2.46">=25℃</tspan></text>
<text x="442" y="438" font-size="9" text-anchor="end">0</text>
<text x="442" y="418.61" font-size="9" text-anchor="end">50</text>
<text x="442" y="399.23" font-size="9" text-anchor="end">100</text>
<text x="442" y="379.84" font-size="9" text-anchor="end">150</text>
<text x="442" y="360.45" font-size="9" text-anchor="end">200</text>
<text x="442" y="341.06" font-size="9" text-anchor="end">250</text>
<text x="442" y="321.67" font-size="9" text-anchor="end">300</text>
<text x="442" y="302.29" font-size="9" text-anchor="end">350</text>
<text x="442" y="282.9" font-size="9" text-anchor="end">400</text>
<text x="449.5" y="451.1" font-size="9" text-anchor="middle">0.0001</text>
<text x="491.92" y="451.1" font-size="9" text-anchor="middle">0.001</text>
<text x="534.34" y="451.1" font-size="9" text-anchor="middle">0.01</text>
<text x="576.76" y="451.1" font-size="9" text-anchor="middle">0.1</text>
<text x="619.18" y="451.1" font-size="9" text-anchor="middle">1</text>
<text x="661.6" y="451.1" font-size="9" text-anchor="middle">10</text>
<text x="420" y="357.8" font-size="9.18" font-weight="bold" text-anchor="middle" transform="rotate(-90 420 357.8)">Power (W)</text>
<text x="555.2" y="467.9" font-size="9.18" font-weight="bold" text-anchor="middle">Pulse Width (s)</text>
<text x="555.3" y="479.8" font-size="9.18" font-weight="bold" text-anchor="middle">Figure 10: Single Pulse Power Rating Junction-to-</text>
<text x="555" y="491.8" font-size="9.18" font-weight="bold" text-anchor="middle">Case (Note F)</text>
<!--fig11-->
<line x1="167.6" y1="658.67" x2="652.3" y2="658.67" stroke="#7a7a7a" stroke-width="1"/>
<line x1="167.6" y1="649.52" x2="652.3" y2="649.52" stroke="#7a7a7a" stroke-width="1"/>
<line x1="167.6" y1="643.03" x2="652.3" y2="643.03" stroke="#7a7a7a" stroke-width="1"/>
<line x1="167.6" y1="638" x2="652.3" y2="638" stroke="#7a7a7a" stroke-width="1"/>
<line x1="167.6" y1="633.89" x2="652.3" y2="633.89" stroke="#7a7a7a" stroke-width="1"/>
<line x1="167.6" y1="630.41" x2="652.3" y2="630.41" stroke="#7a7a7a" stroke-width="1"/>
<line x1="167.6" y1="627.4" x2="652.3" y2="627.4" stroke="#7a7a7a" stroke-width="1"/>
<line x1="167.6" y1="624.74" x2="652.3" y2="624.74" stroke="#7a7a7a" stroke-width="1"/>
<line x1="167.6" y1="606.73" x2="652.3" y2="606.73" stroke="#7a7a7a" stroke-width="1"/>
<line x1="167.6" y1="597.59" x2="652.3" y2="597.59" stroke="#7a7a7a" stroke-width="1"/>
<line x1="167.6" y1="591.1" x2="652.3" y2="591.1" stroke="#7a7a7a" stroke-width="1"/>
<line x1="167.6" y1="586.07" x2="652.3" y2="586.07" stroke="#7a7a7a" stroke-width="1"/>
<line x1="167.6" y1="581.95" x2="652.3" y2="581.95" stroke="#7a7a7a" stroke-width="1"/>
<line x1="167.6" y1="578.48" x2="652.3" y2="578.48" stroke="#7a7a7a" stroke-width="1"/>
<line x1="167.6" y1="575.47" x2="652.3" y2="575.47" stroke="#7a7a7a" stroke-width="1"/>
<line x1="167.6" y1="572.81" x2="652.3" y2="572.81" stroke="#7a7a7a" stroke-width="1"/>
<line x1="167.6" y1="554.8" x2="652.3" y2="554.8" stroke="#7a7a7a" stroke-width="1"/>
<line x1="167.6" y1="545.65" x2="652.3" y2="545.65" stroke="#7a7a7a" stroke-width="1"/>
<line x1="167.6" y1="539.17" x2="652.3" y2="539.17" stroke="#7a7a7a" stroke-width="1"/>
<line x1="167.6" y1="534.13" x2="652.3" y2="534.13" stroke="#7a7a7a" stroke-width="1"/>
<line x1="167.6" y1="530.02" x2="652.3" y2="530.02" stroke="#7a7a7a" stroke-width="1"/>
<line x1="167.6" y1="526.54" x2="652.3" y2="526.54" stroke="#7a7a7a" stroke-width="1"/>
<line x1="167.6" y1="523.53" x2="652.3" y2="523.53" stroke="#7a7a7a" stroke-width="1"/>
<line x1="167.6" y1="520.88" x2="652.3" y2="520.88" stroke="#7a7a7a" stroke-width="1"/>
<line x1="167.6" y1="622.37" x2="652.3" y2="622.37" stroke="#111" stroke-width="0.9"/>
<line x1="167.6" y1="570.43" x2="652.3" y2="570.43" stroke="#111" stroke-width="0.9"/>
<line x1="188.44" y1="518.5" x2="188.44" y2="674.3" stroke="#7a7a7a" stroke-width="1"/>
<line x1="200.64" y1="518.5" x2="200.64" y2="674.3" stroke="#7a7a7a" stroke-width="1"/>
<line x1="209.29" y1="518.5" x2="209.29" y2="674.3" stroke="#7a7a7a" stroke-width="1"/>
<line x1="216" y1="518.5" x2="216" y2="674.3" stroke="#7a7a7a" stroke-width="1"/>
<line x1="221.48" y1="518.5" x2="221.48" y2="674.3" stroke="#7a7a7a" stroke-width="1"/>
<line x1="226.12" y1="518.5" x2="226.12" y2="674.3" stroke="#7a7a7a" stroke-width="1"/>
<line x1="230.13" y1="518.5" x2="230.13" y2="674.3" stroke="#7a7a7a" stroke-width="1"/>
<line x1="233.67" y1="518.5" x2="233.67" y2="674.3" stroke="#7a7a7a" stroke-width="1"/>
<line x1="257.69" y1="518.5" x2="257.69" y2="674.3" stroke="#7a7a7a" stroke-width="1"/>
<line x1="269.88" y1="518.5" x2="269.88" y2="674.3" stroke="#7a7a7a" stroke-width="1"/>
<line x1="278.53" y1="518.5" x2="278.53" y2="674.3" stroke="#7a7a7a" stroke-width="1"/>
<line x1="285.24" y1="518.5" x2="285.24" y2="674.3" stroke="#7a7a7a" stroke-width="1"/>
<line x1="290.72" y1="518.5" x2="290.72" y2="674.3" stroke="#7a7a7a" stroke-width="1"/>
<line x1="295.36" y1="518.5" x2="295.36" y2="674.3" stroke="#7a7a7a" stroke-width="1"/>
<line x1="299.38" y1="518.5" x2="299.38" y2="674.3" stroke="#7a7a7a" stroke-width="1"/>
<line x1="302.92" y1="518.5" x2="302.92" y2="674.3" stroke="#7a7a7a" stroke-width="1"/>
<line x1="326.93" y1="518.5" x2="326.93" y2="674.3" stroke="#7a7a7a" stroke-width="1"/>
<line x1="339.12" y1="518.5" x2="339.12" y2="674.3" stroke="#7a7a7a" stroke-width="1"/>
<line x1="347.77" y1="518.5" x2="347.77" y2="674.3" stroke="#7a7a7a" stroke-width="1"/>
<line x1="354.48" y1="518.5" x2="354.48" y2="674.3" stroke="#7a7a7a" stroke-width="1"/>
<line x1="359.97" y1="518.5" x2="359.97" y2="674.3" stroke="#7a7a7a" stroke-width="1"/>
<line x1="364.6" y1="518.5" x2="364.6" y2="674.3" stroke="#7a7a7a" stroke-width="1"/>
<line x1="368.62" y1="518.5" x2="368.62" y2="674.3" stroke="#7a7a7a" stroke-width="1"/>
<line x1="372.16" y1="518.5" x2="372.16" y2="674.3" stroke="#7a7a7a" stroke-width="1"/>
<line x1="396.17" y1="518.5" x2="396.17" y2="674.3" stroke="#7a7a7a" stroke-width="1"/>
<line x1="408.37" y1="518.5" x2="408.37" y2="674.3" stroke="#7a7a7a" stroke-width="1"/>
<line x1="417.02" y1="518.5" x2="417.02" y2="674.3" stroke="#7a7a7a" stroke-width="1"/>
<line x1="423.73" y1="518.5" x2="423.73" y2="674.3" stroke="#7a7a7a" stroke-width="1"/>
<line x1="429.21" y1="518.5" x2="429.21" y2="674.3" stroke="#7a7a7a" stroke-width="1"/>
<line x1="433.85" y1="518.5" x2="433.85" y2="674.3" stroke="#7a7a7a" stroke-width="1"/>
<line x1="437.86" y1="518.5" x2="437.86" y2="674.3" stroke="#7a7a7a" stroke-width="1"/>
<line x1="441.4" y1="518.5" x2="441.4" y2="674.3" stroke="#7a7a7a" stroke-width="1"/>
<line x1="465.42" y1="518.5" x2="465.42" y2="674.3" stroke="#7a7a7a" stroke-width="1"/>
<line x1="477.61" y1="518.5" x2="477.61" y2="674.3" stroke="#7a7a7a" stroke-width="1"/>
<line x1="486.26" y1="518.5" x2="486.26" y2="674.3" stroke="#7a7a7a" stroke-width="1"/>
<line x1="492.97" y1="518.5" x2="492.97" y2="674.3" stroke="#7a7a7a" stroke-width="1"/>
<line x1="498.45" y1="518.5" x2="498.45" y2="674.3" stroke="#7a7a7a" stroke-width="1"/>
<line x1="503.09" y1="518.5" x2="503.09" y2="674.3" stroke="#7a7a7a" stroke-width="1"/>
<line x1="507.1" y1="518.5" x2="507.1" y2="674.3" stroke="#7a7a7a" stroke-width="1"/>
<line x1="510.65" y1="518.5" x2="510.65" y2="674.3" stroke="#7a7a7a" stroke-width="1"/>
<line x1="534.66" y1="518.5" x2="534.66" y2="674.3" stroke="#7a7a7a" stroke-width="1"/>
<line x1="546.85" y1="518.5" x2="546.85" y2="674.3" stroke="#7a7a7a" stroke-width="1"/>
<line x1="555.5" y1="518.5" x2="555.5" y2="674.3" stroke="#7a7a7a" stroke-width="1"/>
<line x1="562.21" y1="518.5" x2="562.21" y2="674.3" stroke="#7a7a7a" stroke-width="1"/>
<line x1="567.7" y1="518.5" x2="567.7" y2="674.3" stroke="#7a7a7a" stroke-width="1"/>
<line x1="572.33" y1="518.5" x2="572.33" y2="674.3" stroke="#7a7a7a" stroke-width="1"/>
<line x1="576.35" y1="518.5" x2="576.35" y2="674.3" stroke="#7a7a7a" stroke-width="1"/>
<line x1="579.89" y1="518.5" x2="579.89" y2="674.3" stroke="#7a7a7a" stroke-width="1"/>
<line x1="603.9" y1="518.5" x2="603.9" y2="674.3" stroke="#7a7a7a" stroke-width="1"/>
<line x1="616.09" y1="518.5" x2="616.09" y2="674.3" stroke="#7a7a7a" stroke-width="1"/>
<line x1="624.75" y1="518.5" x2="624.75" y2="674.3" stroke="#7a7a7a" stroke-width="1"/>
<line x1="631.46" y1="518.5" x2="631.46" y2="674.3" stroke="#7a7a7a" stroke-width="1"/>
<line x1="636.94" y1="518.5" x2="636.94" y2="674.3" stroke="#7a7a7a" stroke-width="1"/>
<line x1="641.57" y1="518.5" x2="641.57" y2="674.3" stroke="#7a7a7a" stroke-width="1"/>
<line x1="645.59" y1="518.5" x2="645.59" y2="674.3" stroke="#7a7a7a" stroke-width="1"/>
<line x1="649.13" y1="518.5" x2="649.13" y2="674.3" stroke="#7a7a7a" stroke-width="1"/>
<line x1="236.84" y1="518.5" x2="236.84" y2="674.3" stroke="#111" stroke-width="0.9"/>
<line x1="306.09" y1="518.5" x2="306.09" y2="674.3" stroke="#111" stroke-width="0.9"/>
<line x1="375.33" y1="518.5" x2="375.33" y2="674.3" stroke="#111" stroke-width="0.9"/>
<line x1="444.57" y1="518.5" x2="444.57" y2="674.3" stroke="#111" stroke-width="0.9"/>
<line x1="513.81" y1="518.5" x2="513.81" y2="674.3" stroke="#111" stroke-width="0.9"/>
<line x1="583.06" y1="518.5" x2="583.06" y2="674.3" stroke="#111" stroke-width="0.9"/>
<line x1="167.6" y1="518.5" x2="652.3" y2="518.5" stroke="#7a7a7a" stroke-width="1"/>
<line x1="652.3" y1="518.5" x2="652.3" y2="674.3" stroke="#7a7a7a" stroke-width="1"/>
<line x1="167.6" y1="518" x2="167.6" y2="674.8" stroke="#000" stroke-width="1"/>
<line x1="167.6" y1="674.3" x2="652.3" y2="674.3" stroke="#000" stroke-width="1"/>
<path d="M167.6 585.88 L169.99 585.94 L172.38 585.97 L174.76 585.97 L177.15 585.96 L179.54 585.93 L181.93 585.88 L184.32 585.83 L186.7 585.77 L189.09 585.71 L191.48 585.64 L193.87 585.57 L196.25 585.49 L198.64 585.42 L201.03 585.35 L203.42 585.28 L205.81 585.22 L208.19 585.15 L210.58 585.09 L212.97 585.02 L215.36 584.96 L217.75 584.9 L220.13 584.84 L222.52 584.78 L224.91 584.72 L227.3 584.65 L229.68 584.59 L232.07 584.52 L234.46 584.45 L236.85 584.37 L239.24 584.29 L241.62 584.2 L244.01 584.11 L246.4 584.01 L248.79 583.91 L251.18 583.79 L253.56 583.67 L255.95 583.54 L258.34 583.4 L260.73 583.25 L263.12 583.09 L265.5 582.92 L267.89 582.74 L270.28 582.55 L272.67 582.36 L275.05 582.15 L277.44 581.93 L279.83 581.7 L282.22 581.47 L284.61 581.22 L286.99 580.97 L289.38 580.71 L291.77 580.44 L294.16 580.17 L296.55 579.89 L298.93 579.6 L301.32 579.31 L303.71 579.01 L306.1 578.71 L308.48 578.41 L310.87 578.1 L313.26 577.8 L315.65 577.49 L318.04 577.18 L320.42 576.87 L322.81 576.57 L325.2 576.26 L327.59 575.96 L329.98 575.66 L332.36 575.37 L334.75 575.08 L337.14 574.8 L339.53 574.55 L341.92 574.39 L344.3 574.23 L346.69 574.04 L349.08 573.81 L351.47 573.53 L353.85 573.23 L356.24 572.93 L358.63 572.65 L361.02 572.41 L363.41 572.19 L365.79 571.99 L368.18 571.82 L370.57 571.68 L372.96 571.55 L375.35 571.43 L377.73 571.33 L380.12 571.23 L382.51 571.15 L384.9 571.07 L387.28 570.99 L389.67 570.88 L392.06 570.73 L394.45 570.56 L396.84 570.43 L399.22 570.36 L401.61 570.33 L404 570.33" fill="none" stroke="#000" stroke-width="2.1" stroke-linejoin="round"/>
<path d="M167.6 596.9 L169.99 597.02 L172.38 597.08 L174.76 597.09 L177.15 597.06 L179.54 597.01 L181.93 596.93 L184.32 596.83 L186.7 596.71 L189.09 596.59 L191.48 596.45 L193.87 596.31 L196.25 596.17 L198.64 596.02 L201.03 595.88 L203.42 595.73 L205.81 595.58 L208.19 595.43 L210.58 595.28 L212.97 595.13 L215.36 594.98 L217.75 594.83 L220.13 594.67 L222.52 594.51 L224.91 594.34 L227.3 594.16 L229.68 593.98 L232.07 593.79 L234.46 593.59 L236.85 593.38 L239.24 593.15 L241.62 592.92 L244.01 592.66 L246.4 592.4 L248.79 592.12 L251.18 591.82 L253.56 591.51 L255.95 591.19 L258.34 590.84 L260.73 590.48 L263.12 590.11 L265.5 589.71 L267.89 589.31 L270.28 588.88 L272.67 588.45 L275.05 588 L277.44 587.53 L279.83 587.06 L282.22 586.57 L284.61 586.07 L286.99 585.57 L289.38 585.06 L291.77 584.54 L294.16 584.01 L296.55 583.49 L298.93 582.96 L301.32 582.43 L303.71 581.9 L306.1 581.37 L308.48 580.85 L310.87 580.33 L313.26 579.82 L315.65 579.32 L318.04 578.82 L320.42 578.34 L322.81 577.86 L325.2 577.4 L327.59 576.96 L329.98 576.53 L332.36 576.11 L334.75 575.71 L337.14 575.32 L339.53 574.97 L341.92 574.69 L344.3 574.43 L346.69 574.16 L349.08 573.86 L351.47 573.55 L353.85 573.23 L356.24 572.93 L358.63 572.65 L361.02 572.41 L363.41 572.19 L365.79 571.99 L368.18 571.82 L370.57 571.68 L372.96 571.55 L375.35 571.43 L377.73 571.33 L380.12 571.23 L382.51 571.15 L384.9 571.07 L387.28 570.99 L389.67 570.88 L392.06 570.73 L394.45 570.56 L396.84 570.43 L399.22 570.36 L401.61 570.33 L404 570.33" fill="none" stroke="#000" stroke-width="2.1" stroke-linejoin="round"/>
<path d="M167.6 619.84 L169.99 619.56 L172.38 619.25 L174.76 618.92 L177.15 618.56 L179.54 618.19 L181.93 617.81 L184.32 617.42 L186.7 617.02 L189.09 616.61 L191.48 616.21 L193.87 615.79 L196.25 615.38 L198.64 614.96 L201.03 614.54 L203.42 614.11 L205.81 613.68 L208.19 613.24 L210.58 612.79 L212.97 612.34 L215.36 611.88 L217.75 611.41 L220.13 610.92 L222.52 610.42 L224.91 609.91 L227.3 609.38 L229.68 608.84 L232.07 608.28 L234.46 607.7 L236.85 607.1 L239.24 606.48 L241.62 605.85 L244.01 605.19 L246.4 604.51 L248.79 603.82 L251.18 603.11 L253.56 602.37 L255.95 601.62 L258.34 600.85 L260.73 600.06 L263.12 599.26 L265.5 598.45 L267.89 597.62 L270.28 596.77 L272.67 595.92 L275.05 595.06 L277.44 594.19 L279.83 593.32 L282.22 592.44 L284.61 591.57 L286.99 590.69 L289.38 589.82 L291.77 588.94 L294.16 588.08 L296.55 587.23 L298.93 586.38 L301.32 585.55 L303.71 584.73 L306.1 583.93 L308.48 583.15 L310.87 582.38 L313.26 581.64 L315.65 580.92 L318.04 580.22 L320.42 579.55 L322.81 578.91 L325.2 578.29 L327.59 577.7 L329.98 577.14 L332.36 576.61 L334.75 576.1 L337.14 575.63 L339.53 575.2 L341.92 574.84 L344.3 574.51 L346.69 574.19 L349.08 573.87 L351.47 573.55 L353.85 573.23 L356.24 572.93 L358.63 572.65 L361.02 572.41 L363.41 572.19 L365.79 571.99 L368.18 571.82 L370.57 571.68 L372.96 571.55 L375.35 571.43 L377.73 571.33 L380.12 571.23 L382.51 571.15 L384.9 571.07 L387.28 570.99 L389.67 570.88 L392.06 570.73 L394.45 570.56 L396.84 570.43 L399.22 570.36 L401.61 570.33 L404 570.33" fill="none" stroke="#000" stroke-width="2.1" stroke-linejoin="round"/>
<path d="M167.6 631.65 L169.99 631.16 L172.38 630.65 L174.76 630.11 L177.15 629.54 L179.54 628.97 L181.93 628.37 L184.32 627.76 L186.7 627.14 L189.09 626.51 L191.48 625.87 L193.87 625.22 L196.25 624.56 L198.64 623.9 L201.03 623.22 L203.42 622.54 L205.81 621.85 L208.19 621.14 L210.58 620.43 L212.97 619.71 L215.36 618.98 L217.75 618.23 L220.13 617.48 L222.52 616.71 L224.91 615.93 L227.3 615.14 L229.68 614.33 L232.07 613.51 L234.46 612.68 L236.85 611.83 L239.24 610.97 L241.62 610.09 L244.01 609.2 L246.4 608.3 L248.79 607.39 L251.18 606.47 L253.56 605.53 L255.95 604.58 L258.34 603.63 L260.73 602.66 L263.12 601.69 L265.5 600.72 L267.89 599.73 L270.28 598.75 L272.67 597.76 L275.05 596.77 L277.44 595.79 L279.83 594.8 L282.22 593.82 L284.61 592.85 L286.99 591.88 L289.38 590.93 L291.77 589.98 L294.16 589.04 L296.55 588.12 L298.93 587.22 L301.32 586.33 L303.71 585.47 L306.1 584.62 L308.48 583.79 L310.87 582.99 L313.26 582.21 L315.65 581.45 L318.04 580.72 L320.42 580.02 L322.81 579.35 L325.2 578.7 L327.59 578.09 L329.98 577.5 L332.36 576.94 L334.75 576.41 L337.14 575.91 L339.53 575.45 L341.92 575.04 L344.3 574.66 L346.69 574.29 L349.08 573.93 L351.47 573.57 L353.85 573.24 L356.24 572.93 L358.63 572.65 L361.02 572.41 L363.41 572.19 L365.79 571.99 L368.18 571.82 L370.57 571.68 L372.96 571.55 L375.35 571.43 L377.73 571.33 L380.12 571.23 L382.51 571.15 L384.9 571.07 L387.28 570.99 L389.67 570.88 L392.06 570.73 L394.45 570.56 L396.84 570.43 L399.22 570.36 L401.61 570.33 L404 570.33" fill="none" stroke="#000" stroke-width="2.1" stroke-linejoin="round"/>
<path d="M167.6 643.75 L169.99 643 L172.38 642.17 L174.76 641.27 L177.15 640.3 L179.54 639.29 L181.93 638.25 L184.32 637.18 L186.7 636.09 L189.09 634.98 L191.48 633.88 L193.87 632.77 L196.25 631.66 L198.64 630.56 L201.03 629.47 L203.42 628.39 L205.81 627.32 L208.19 626.27 L210.58 625.22 L212.97 624.19 L215.36 623.17 L217.75 622.16 L220.13 621.16 L222.52 620.17 L224.91 619.18 L227.3 618.21 L229.68 617.24 L232.07 616.27 L234.46 615.3 L236.85 614.34 L239.24 613.38 L241.62 612.41 L244.01 611.44 L246.4 610.47 L248.79 609.5 L251.18 608.52 L253.56 607.53 L255.95 606.54 L258.34 605.55 L260.73 604.54 L263.12 603.54 L265.5 602.53 L267.89 601.51 L270.28 600.49 L272.67 599.47 L275.05 598.44 L277.44 597.42 L279.83 596.39 L282.22 595.37 L284.61 594.35 L286.99 593.33 L289.38 592.32 L291.77 591.32 L294.16 590.33 L296.55 589.35 L298.93 588.38 L301.32 587.43 L303.71 586.5 L306.1 585.59 L308.48 584.69 L310.87 583.82 L313.26 582.97 L315.65 582.15 L318.04 581.36 L320.42 580.59 L322.81 579.85 L325.2 579.15 L327.59 578.47 L329.98 577.83 L332.36 577.22 L334.75 576.64 L337.14 576.1 L339.53 575.6 L341.92 575.14 L344.3 574.72 L346.69 574.32 L349.08 573.93 L351.47 573.57 L353.85 573.24 L356.24 572.93 L358.63 572.65 L361.02 572.41 L363.41 572.19 L365.79 571.99 L368.18 571.82 L370.57 571.68 L372.96 571.55 L375.35 571.43 L377.73 571.33 L380.12 571.23 L382.51 571.15 L384.9 571.07 L387.28 570.99 L389.67 570.88 L392.06 570.73 L394.45 570.56 L396.84 570.43 L399.22 570.36 L401.61 570.33 L404 570.33" fill="none" stroke="#000" stroke-width="2.1" stroke-linejoin="round"/>
<path d="M167.6 649.94 L169.99 648.99 L172.38 647.94 L174.76 646.79 L177.15 645.57 L179.54 644.29 L181.93 642.98 L184.32 641.63 L186.7 640.28 L189.09 638.91 L191.48 637.55 L193.87 636.2 L196.25 634.86 L198.64 633.54 L201.03 632.24 L203.42 630.97 L205.81 629.72 L208.19 628.5 L210.58 627.31 L212.97 626.14 L215.36 625 L217.75 623.88 L220.13 622.78 L222.52 621.71 L224.91 620.66 L227.3 619.62 L229.68 618.6 L232.07 617.59 L234.46 616.59 L236.85 615.59 L239.24 614.61 L241.62 613.63 L244.01 612.65 L246.4 611.67 L248.79 610.69 L251.18 609.71 L253.56 608.72 L255.95 607.73 L258.34 606.73 L260.73 605.73 L263.12 604.72 L265.5 603.71 L267.89 602.68 L270.28 601.65 L272.67 600.62 L275.05 599.58 L277.44 598.54 L279.83 597.49 L282.22 596.45 L284.61 595.4 L286.99 594.35 L289.38 593.31 L291.77 592.27 L294.16 591.25 L296.55 590.23 L298.93 589.22 L301.32 588.22 L303.71 587.24 L306.1 586.28 L308.48 585.34 L310.87 584.42 L313.26 583.52 L315.65 582.65 L318.04 581.81 L320.42 581 L322.81 580.22 L325.2 579.47 L327.59 578.75 L329.98 578.07 L332.36 577.42 L334.75 576.81 L337.14 576.23 L339.53 575.7 L341.92 575.21 L344.3 574.75 L346.69 574.33 L349.08 573.94 L351.47 573.57 L353.85 573.24 L356.24 572.93 L358.63 572.65 L361.02 572.41 L363.41 572.19 L365.79 571.99 L368.18 571.82 L370.57 571.68 L372.96 571.55 L375.35 571.43 L377.73 571.33 L380.12 571.23 L382.51 571.15 L384.9 571.07 L387.28 570.99 L389.67 570.88 L392.06 570.73 L394.45 570.56 L396.84 570.43 L399.22 570.36 L401.61 570.33 L404 570.33" fill="none" stroke="#000" stroke-width="2.1" stroke-linejoin="round"/>
<path d="M167.6 656.66 L169.99 655.53 L172.38 654.26 L174.76 652.87 L177.15 651.39 L179.54 649.83 L181.93 648.23 L184.32 646.6 L186.7 644.95 L189.09 643.29 L191.48 641.64 L193.87 640.01 L196.25 638.41 L198.64 636.83 L201.03 635.29 L203.42 633.79 L205.81 632.33 L208.19 630.91 L210.58 629.54 L212.97 628.2 L215.36 626.91 L217.75 625.66 L220.13 624.44 L222.52 623.26 L224.91 622.11 L227.3 620.99 L229.68 619.9 L232.07 618.84 L234.46 617.79 L236.85 616.76 L239.24 615.74 L241.62 614.74 L244.01 613.74 L246.4 612.75 L248.79 611.77 L251.18 610.78 L253.56 609.8 L255.95 608.8 L258.34 607.81 L260.73 606.81 L263.12 605.8 L265.5 604.79 L267.89 603.77 L270.28 602.74 L272.67 601.7 L275.05 600.65 L277.44 599.6 L279.83 598.54 L282.22 597.48 L284.61 596.42 L286.99 595.35 L289.38 594.29 L291.77 593.22 L294.16 592.16 L296.55 591.11 L298.93 590.07 L301.32 589.04 L303.71 588.02 L306.1 587.02 L308.48 586.03 L310.87 585.07 L313.26 584.13 L315.65 583.21 L318.04 582.32 L320.42 581.47 L322.81 580.64 L325.2 579.85 L327.59 579.09 L329.98 578.37 L332.36 577.68 L334.75 577.03 L337.14 576.42 L339.53 575.85 L341.92 575.32 L344.3 574.83 L346.69 574.38 L349.08 573.96 L351.47 573.58 L353.85 573.24 L356.24 572.93 L358.63 572.65 L361.02 572.41 L363.41 572.19 L365.79 571.99 L368.18 571.82 L370.57 571.68 L372.96 571.55 L375.35 571.43 L377.73 571.33 L380.12 571.23 L382.51 571.15 L384.9 571.07 L387.28 570.99 L389.67 570.88 L392.06 570.73 L394.45 570.56 L396.84 570.43 L399.22 570.36 L401.61 570.33 L404 570.33" fill="none" stroke="#000" stroke-width="2.1" stroke-linejoin="round"/>
<line x1="390" y1="570.33" x2="652.3" y2="570.33" stroke="#000" stroke-width="2.7"/>
<line x1="397" y1="570.33" x2="652.3" y2="570.33" stroke="#000" stroke-width="3.3"/>
<rect x="215.2" y="519.2" width="112.3" height="48.5" fill="#fff"/>
<text x="218" y="529.6" font-size="9">D=T<tspan font-size="5.94" dy="2.43">on</tspan><tspan dy="-2.43">/T</tspan></text>
<text x="218" y="544.3" font-size="9">T<tspan font-size="5.94" dy="2.43">J,PK</tspan><tspan dy="-2.43">=T</tspan><tspan font-size="5.94" dy="2.43">C</tspan><tspan dy="-2.43">+P</tspan><tspan font-size="5.94" dy="2.43">DM.</tspan><tspan dy="-2.43">Z</tspan><tspan font-size="5.94" dy="2.43">θJC.</tspan><tspan dy="-2.43">R</tspan><tspan font-size="5.94" dy="2.43">θJC</tspan></text>
<text x="218" y="561.1" font-size="9">R<tspan font-size="5.94" dy="2.43">θJC</tspan><tspan dy="-2.43">=1.5℃/W</tspan></text>
<rect x="346.1" y="520" width="210.6" height="27.8" fill="#fff"/>
<text x="350.2" y="529" font-size="9.1">In descending order</text>
<text x="350.2" y="540.7" font-size="9.1">D=0.5, 0.3, 0.1, 0.05, 0.02, 0.01, single pulse</text>
<rect x="204.8" y="657.1" width="60.6" height="12.5" fill="#fff"/>
<text x="207.9" y="666.6" font-size="9">Single Pulse</text>
<rect x="485.6" y="580.6" width="170.4" height="78.9" fill="#fff"/>
<path d="M488.2 629.5 L517.4 629.5 L517.4 607.1 L541.1 607.1 L541.1 629.8 L580.2 629.8 L580.2 607.1 L604.2 607.1 L604.2 629.8 L643.5 629.8" fill="none" stroke="#000" stroke-width="1.6" stroke-linejoin="round" stroke-linejoin="miter"/>
<line x1="497.7" y1="607.1" x2="517.4" y2="607.1" stroke="#000" stroke-width="1"/>
<line x1="509.1" y1="593.2" x2="509.1" y2="604" stroke="#000" stroke-width="1"/>
<path d="M506.9 601.2 L511.3 601.2 L509.1 606.8 Z" fill="#000"/>
<line x1="509.1" y1="633" x2="509.1" y2="640.8" stroke="#000" stroke-width="1"/>
<path d="M506.9 636 L511.3 636 L509.1 630.4 Z" fill="#000"/>
<text x="502.8" y="620.4" font-size="9">P<tspan font-size="5.94" dy="2.43">D</tspan></text>
<line x1="517.4" y1="629.8" x2="517.4" y2="665.8" stroke="#000" stroke-width="1"/>
<line x1="541.1" y1="629.8" x2="541.1" y2="648" stroke="#000" stroke-width="1"/>
<line x1="580.2" y1="629.8" x2="580.2" y2="666" stroke="#000" stroke-width="1"/>
<line x1="500.3" y1="643.1" x2="514" y2="643.1" stroke="#000" stroke-width="1"/>
<path d="M511.6 640.9 L511.6 645.3 L517.2 643.1 Z" fill="#000"/>
<line x1="545" y1="643.1" x2="558.3" y2="643.1" stroke="#000" stroke-width="1"/>
<path d="M547 640.9 L547 645.3 L541.4 643.1 Z" fill="#000"/>
<text x="522.5" y="646.9" font-size="9">T<tspan font-size="5.94" dy="2.43">on</tspan></text>
<text x="543.9" y="655.4" font-size="9">T</text>
<line x1="520" y1="659" x2="577.5" y2="659" stroke="#000" stroke-width="1"/>
<path d="M523.4 656.8 L523.4 661.2 L517.8 659 Z" fill="#000"/>
<path d="M574.2 656.8 L574.2 661.2 L579.8 659 Z" fill="#000"/>
<text x="160.5" y="677.5" font-size="9.15" text-anchor="end">0.01</text>
<text x="160.5" y="624.57" font-size="9.15" text-anchor="end">0.1</text>
<text x="160.5" y="572.63" font-size="9.15" text-anchor="end">1</text>
<text x="160.5" y="521" font-size="9.15" text-anchor="end">10</text>
<text x="167.6" y="690.6" font-size="9.15" text-anchor="middle">0.00001</text>
<text x="236.84" y="690.6" font-size="9.15" text-anchor="middle">0.0001</text>
<text x="306.09" y="690.6" font-size="9.15" text-anchor="middle">0.001</text>
<text x="375.33" y="690.6" font-size="9.15" text-anchor="middle">0.01</text>
<text x="444.57" y="690.6" font-size="9.15" text-anchor="middle">0.1</text>
<text x="513.81" y="690.6" font-size="9.15" text-anchor="middle">1</text>
<text x="583.06" y="690.6" font-size="9.15" text-anchor="middle">10</text>
<text x="652.3" y="690.6" font-size="9.15" text-anchor="middle">100</text>
<text x="126.3" y="594" font-size="9.25" font-weight="bold" text-anchor="middle" transform="rotate(-90 126.3 594)">Z<tspan font-size="6.11" dy="1.11">θJC</tspan><tspan dy="-1.11"> Normalized Transient</tspan></text>
<text x="140" y="594" font-size="9.1" font-weight="bold" text-anchor="middle" transform="rotate(-90 140 594)">Thermal Resistance</text>
<text x="409.8" y="706.5" font-size="9.1" font-weight="bold" text-anchor="middle">Pulse Width (s)</text>
<text x="409.8" y="718.6" font-size="9.18" font-weight="bold" text-anchor="middle">Figure 11: Normalized Maximum Transient Thermal Impedance (Note F)</text>
</svg>
</body>
</html>
